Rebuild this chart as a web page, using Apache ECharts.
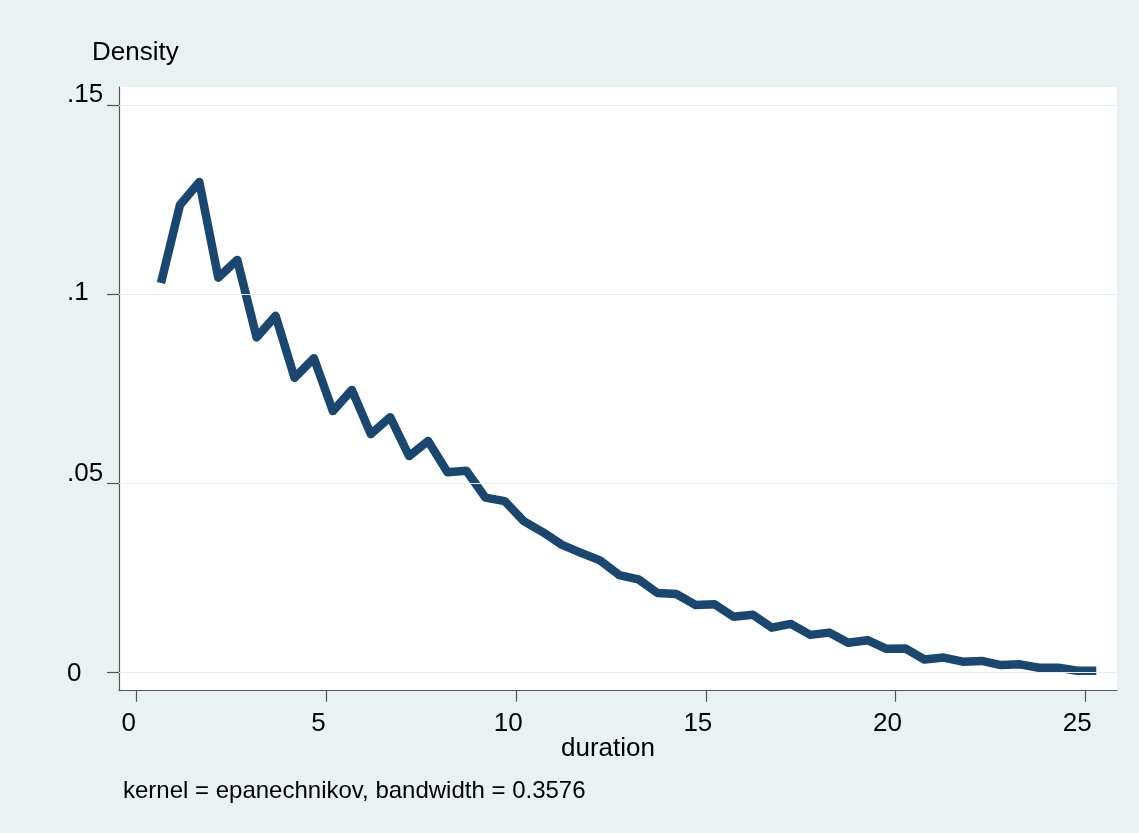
<!DOCTYPE html>
<html><head><meta charset="utf-8">
<script src="https://cdn.jsdelivr.net/npm/echarts@6/dist/echarts.min.js"></script>
<style>html,body{margin:0;padding:0;background:#eaf1f3}#c{width:1139px;height:833px}</style>
</head><body><div id="c"></div>
<script>
const durationX = [0.64, 1.14, 1.65, 2.15, 2.65, 3.16, 3.66, 4.16, 4.67, 5.17,
  5.67, 6.17, 6.68, 7.18, 7.68, 8.19, 8.69, 9.19, 9.70, 10.20,
  10.70, 11.21, 11.71, 12.21, 12.72, 13.22, 13.72, 14.22, 14.73, 15.23,
  15.73, 16.24, 16.74, 17.24, 17.75, 18.25, 18.75, 19.26, 19.76, 20.26,
  20.76, 21.27, 21.77, 22.27, 22.78, 23.28, 23.78, 24.29, 24.79, 25.29];
const densityY = [0.1030, 0.1236, 0.1297, 0.1044, 0.1091, 0.0886, 0.0943, 0.0779, 0.0831, 0.0691,
  0.0747, 0.0630, 0.0675, 0.0572, 0.0612, 0.0529, 0.0533, 0.0462, 0.0453, 0.0400,
  0.0371, 0.0337, 0.0316, 0.0296, 0.0257, 0.0246, 0.0210, 0.0207, 0.0178, 0.0180,
  0.0147, 0.0152, 0.0118, 0.0128, 0.0099, 0.0105, 0.0078, 0.0085, 0.0062, 0.0063,
  0.0034, 0.0039, 0.0028, 0.0030, 0.0019, 0.0021, 0.0012, 0.0012, 0.0004, 0.0004];
const xTicks = [0, 5, 10, 15, 20, 25];
const yTicks = [0, 0.05, 0.1, 0.15];
const yTickLabels = ['0', '.05', '.1', '.15'];
const yTitle = 'Density';
const xTitle = 'duration';
const noteText = 'kernel = epanechnikov, bandwidth = 0.3576';

const FONT = '"Liberation Sans", Arial, sans-serif';
const chart = echarts.init(document.getElementById('c'), null, {renderer: 'canvas'});
const seriesData = durationX.map((x, i) => [x, densityY[i]]);

function yLabel(v) {
  let idx = yTicks.findIndex(t => Math.abs(t - v) < 1e-9);
  const txt = idx >= 0 ? yTickLabels[idx] : String(v);
  const styles = ['d', 'u2', 'n', 'u1'];
  return '{' + styles[idx >= 0 ? idx : 2] + '|' + txt + '}';
}
const lblBase = {fontSize: 26, color: '#000', fontFamily: FONT};

chart.setOption({
  backgroundColor: '#eaf1f3',
  animation: false,
  grid: {left: 119, right: 22, top: 87, bottom: 142.3, show: true, backgroundColor: '#ffffff', borderWidth: 0},
  xAxis: {
    type: 'value', min: -0.4665, max: 25.836,
    axisLine: {show: true, onZero: false, lineStyle: {color: '#555', width: 1.2}},
    axisTick: {show: true, inside: false, length: 11, customValues: xTicks, lineStyle: {color: '#555', width: 1.2}},
    axisLabel: {show: true, customValues: xTicks, margin: 20, hideOverlap: false,
      formatter: v => '{a|' + v + '}',
      rich: {a: Object.assign({padding: [0, 16, 0, 0]}, lblBase)}},
    splitLine: {show: false}
  },
  yAxis: {
    type: 'value', min: -0.004868, max: 0.15484,
    axisLine: {show: true, onZero: false, lineStyle: {color: '#555', width: 1.2}},
    axisTick: {show: true, inside: false, length: 12, customValues: yTicks, lineStyle: {color: '#555', width: 1.2}},
    axisLabel: {show: true, customValues: yTicks, margin: 52, align: 'left', hideOverlap: false,
      formatter: yLabel,
      rich: {
        d: Object.assign({padding: [4, 0, 0, 0]}, lblBase),
        n: Object.assign({padding: [0, 0, 2, 0]}, lblBase),
        u1: Object.assign({padding: [0, 0, 21, 0]}, lblBase),
        u2: Object.assign({padding: [0, 0, 18, 0]}, lblBase)
      }},
    splitLine: {show: false}
  },
  series: [
    {
      type: 'line', data: [], z: 1, silent: true,
      markLine: {
        silent: true, symbol: 'none', label: {show: false},
        lineStyle: {color: '#e4edef', width: 1.2, type: 'solid'},
        data: yTicks.map(t => ({yAxis: t}))
      }
    },
    {
      type: 'line', data: seriesData, z: 3, showSymbol: false, smooth: false,
      lineStyle: {color: '#1a476f', width: 8.5, cap: 'butt', join: 'round'}
    }
  ],
  graphic: [
    {type: 'text', x: 92, y: 52.5, style: {text: yTitle, font: '26px ' + FONT, fill: '#000', align: 'left', verticalAlign: 'middle'}},
    {type: 'text', x: 608, y: 749, style: {text: xTitle, font: '26px ' + FONT, fill: '#000', align: 'center', verticalAlign: 'middle'}},
    {type: 'text', x: 123, y: 791, style: {text: noteText, font: '24px ' + FONT, fill: '#000', align: 'left', verticalAlign: 'middle'}}
  ]
});
</script></body></html>
